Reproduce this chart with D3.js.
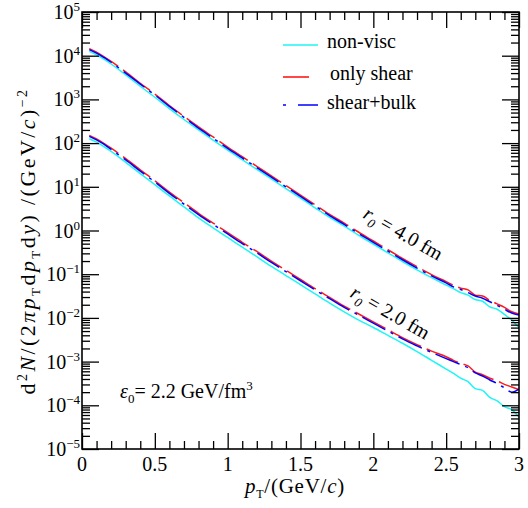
<!DOCTYPE html>
<html><head><meta charset="utf-8">
<script src="https://cdn.jsdelivr.net/npm/d3@7"></script>
<style>
body{margin:0;background:#fff}
svg{display:block}
</style></head><body>
<svg id="c" width="528" height="508"></svg>
<script>
// ---------------- data ----------------
const pT = [0.05,0.1,0.15,0.2,0.3,0.4,0.5,0.6,0.7,0.8,0.9,1.0,1.1,1.2,1.3,1.4,1.5,1.6,1.7,1.8,1.9,2.0,2.1,2.2,2.3,2.4,2.5,2.55,2.6,2.65,2.7,2.75,2.8,2.85,2.9,2.95,3.0];

// r0 = 4.0 fm
const r4NonVisc = [1.26e4,1.05e4,8.32e3,6.46e3,3.63e3,2.00e3,1.12e3,617,347,200,117,69.2,41.7,25.1,15.1,9.12,5.50,3.31,2.00,1.26,0.776,0.490,0.309,0.195,0.126,0.0832,0.0562,0.0468,0.0380,0.0331,0.0263,0.0240,0.0178,0.0158,0.0120,0.00891,0.00603];
const r4Shear    = [1.45e4,1.20e4,9.55e3,7.41e3,4.27e3,2.34e3,1.32e3,724,407,234,138,81.3,49.0,29.5,17.8,10.7,6.46,3.89,2.34,1.48,0.912,0.575,0.363,0.229,0.148,0.0977,0.0676,0.0562,0.0479,0.0437,0.0331,0.0316,0.0251,0.0209,0.0174,0.0138,0.0123];
const r4Bulk     = [1.38e4,1.15e4,9.12e3,7.08e3,3.98e3,2.24e3,1.26e3,692,389,219,129,75.9,45.7,27.5,16.6,10.0,6.03,3.63,2.19,1.38,0.851,0.537,0.339,0.214,0.138,0.0912,0.0631,0.0513,0.0447,0.0380,0.0316,0.0282,0.0234,0.0195,0.0158,0.0129,0.0117];

// r0 = 2.0 fm
const r2NonVisc = [126,105,83.2,64.6,36.3,20.0,11.2,6.17,3.47,1.95,1.15,0.692,0.417,0.251,0.151,0.0933,0.0575,0.0355,0.0219,0.0138,0.00891,0.00603,0.00398,0.00263,0.00170,0.00107,6.76e-4,5.37e-4,4.17e-4,3.47e-4,2.40e-4,2.19e-4,1.51e-4,1.26e-4,9.33e-5,7.94e-5,5.37e-5];
const r2Shear    = [150,124,98.9,76.7,44.2,24.5,13.8,7.59,4.32,2.48,1.48,0.891,0.537,0.331,0.200,0.123,0.0759,0.0468,0.0295,0.0186,0.0123,0.00813,0.00537,0.00355,0.00245,0.00174,0.00129,0.00107,9.12e-4,7.94e-4,5.75e-4,5.01e-4,4.17e-4,3.63e-4,3.02e-4,2.63e-4,2.29e-4];
const r2Bulk     = [143,119,94.4,71.6,41.2,22.9,12.9,7.08,4.03,2.32,1.38,0.832,0.501,0.309,0.186,0.115,0.0708,0.0437,0.0275,0.0174,0.0115,0.00759,0.00501,0.00331,0.00229,0.00162,0.00117,0.00100,8.51e-4,7.24e-4,5.50e-4,4.68e-4,3.80e-4,3.16e-4,2.51e-4,2.00e-4,2.34e-4];

const seriesNames = ["non-visc","only shear","shear+bulk"];
const xTickValues = [0,0.5,1,1.5,2,2.5,3];
const xTickLabels = ["0","0.5","1","1.5","2","2.5","3"];
const yTickExponents = [-5,-4,-3,-2,-1,0,1,2,3,4,5];

// ---------------- layout ----------------
const FONT = "Liberation Serif";
const L=82,R=519,T=12,B=449;
const x=d3.scaleLinear().domain([0,3]).range([L,R]);
const y=d3.scaleLog().domain([1e-5,1e5]).range([B,T]);
const svg=d3.select("#c");
function txt(sel){ return sel.append("text").attr("font-family",FONT).attr("fill","#000"); }

const styles = [
  {color:"#1ff5f5", dash:null},
  {color:"#ff1a1a", dash:"34,6"},
  {color:"#0000ff", dash:"26,6,3,6"}
];

svg.append("clipPath").attr("id","clip").append("rect")
  .attr("x",L).attr("y",T).attr("width",R-L).attr("height",B-T);

const lineGen = d3.line().x((d,i)=>x(pT[i])).y(d=>y(d)).curve(d3.curveMonotoneX);
const plot = svg.append("g").attr("clip-path","url(#clip)");
[[r4NonVisc,r4Shear,r4Bulk],[r2NonVisc,r2Shear,r2Bulk]].forEach(group=>{
  group.forEach((vals,k)=>{
    plot.append("path").attr("d",lineGen(vals))
      .attr("fill","none").attr("stroke",styles[k].color)
      .attr("stroke-width",1.5)
      .attr("stroke-dasharray",styles[k].dash);
  });
});

// ---------------- axes ----------------
function clean(g){ g.select(".domain").remove(); g.selectAll("line").attr("stroke","#000").attr("stroke-width",1.3); g.selectAll("text").remove(); }
const xMinor = d3.range(0,31).map(i=>i/10).filter(v=>Math.abs(v*2-Math.round(v*2))>1e-6);
svg.append("g").attr("transform",`translate(0,${B})`).call(d3.axisBottom(x).tickValues(xTickValues).tickSize(-16)).call(clean);
svg.append("g").attr("transform",`translate(0,${B})`).call(d3.axisBottom(x).tickValues(xMinor).tickSize(-8)).call(clean);
svg.append("g").attr("transform",`translate(0,${T})`).call(d3.axisTop(x).tickValues(xTickValues).tickSize(-16)).call(clean);
svg.append("g").attr("transform",`translate(0,${T})`).call(d3.axisTop(x).tickValues(xMinor).tickSize(-8)).call(clean);

const decades = yTickExponents.map(e=>Math.pow(10,e));
const yMinor = [];
yTickExponents.slice(0,-1).forEach(e=>{ for(let m=2;m<=9;m++) yMinor.push(m*Math.pow(10,e)); });
svg.append("g").attr("transform",`translate(${L},0)`).call(d3.axisLeft(y).tickValues(decades).tickSize(-17)).call(clean);
svg.append("g").attr("transform",`translate(${L},0)`).call(d3.axisLeft(y).tickValues(yMinor).tickSize(-8)).call(clean);
svg.append("g").attr("transform",`translate(${R},0)`).call(d3.axisRight(y).tickValues(decades).tickSize(-17)).call(clean);
svg.append("g").attr("transform",`translate(${R},0)`).call(d3.axisRight(y).tickValues(yMinor).tickSize(-8)).call(clean);

svg.append("rect").attr("x",L).attr("y",T).attr("width",R-L).attr("height",B-T)
  .attr("fill","none").attr("stroke","#000").attr("stroke-width",1.6);

// tick labels
xTickValues.forEach((v,i)=>{
  txt(svg).attr("x",x(v)).attr("y",471).attr("text-anchor","middle")
    .attr("font-size",20).text(xTickLabels[i]);
});
yTickExponents.forEach(e=>{
  const t = txt(svg).attr("x",80).attr("y",y(Math.pow(10,e))+7)
    .attr("text-anchor","end").attr("font-size",20);
  t.append("tspan").text("10");
  t.append("tspan").attr("font-size",13).attr("dy",-8).text(e<0?("\u2212"+(-e)):String(e));
});

// axis titles
const xt = txt(svg).attr("x",295).attr("y",493).attr("text-anchor","middle").attr("font-size",21);
xt.append("tspan").attr("font-style","italic").text("p");
xt.append("tspan").attr("font-size",12).attr("dy",5).text("T");
xt.append("tspan").attr("dy",-5).text("/(GeV/");
xt.append("tspan").attr("font-style","italic").text("c");
xt.append("tspan").text(")");

const yt = txt(svg).attr("transform","translate(35,241) rotate(-90)")
  .attr("text-anchor","middle").attr("font-size",22);
yt.append("tspan").text("d");
yt.append("tspan").attr("font-size",14).attr("dy",-8).text("2");
yt.append("tspan").attr("dy",8).attr("font-style","italic").text("N");
yt.append("tspan").text("/(2");
yt.append("tspan").attr("font-style","italic").text("\u03c0p");
yt.append("tspan").attr("font-size",13).attr("dy",5).text("T");
yt.append("tspan").attr("dy",-5).text("d");
yt.append("tspan").attr("font-style","italic").text("p");
yt.append("tspan").attr("font-size",13).attr("dy",5).text("T");
yt.append("tspan").attr("dy",-5).text("d");
yt.append("tspan").attr("font-style","italic").text("y");
yt.append("tspan").text(") /(GeV/");
yt.append("tspan").attr("font-style","italic").text("c");
yt.append("tspan").text(")");
yt.append("tspan").attr("font-size",14).attr("dy",-8).text("\u22122");
// stretch to the reference length
(function(){
  const n = yt.node();
  const natural = n.getComputedTextLength();
  const chars = n.textContent.length;
  const ls = Math.max(0,Math.min(4,(307-natural)/chars));
  yt.attr("letter-spacing", ls.toFixed(2));
  const n2 = xt.node();
  const nat2 = n2.getComputedTextLength();
  xt.attr("letter-spacing", Math.max(0,Math.min(2,(100-nat2)/n2.textContent.length)).toFixed(2));
})();

// legend
const legY=[45,77,105], legTextY=[48,80,109], legTextX=[327,330,327];
svg.append("line").attr("x1",283).attr("x2",318).attr("y1",legY[0]).attr("y2",legY[0])
  .attr("stroke",styles[0].color).attr("stroke-width",1.6);
svg.append("line").attr("x1",283).attr("x2",309).attr("y1",legY[1]).attr("y2",legY[1])
  .attr("stroke",styles[1].color).attr("stroke-width",1.6);
svg.append("line").attr("x1",283).attr("x2",318).attr("y1",legY[2]).attr("y2",legY[2])
  .attr("stroke",styles[2].color).attr("stroke-width",1.6).attr("stroke-dasharray","3,12,20");
seriesNames.forEach((s,i)=>{
  txt(svg).attr("x",legTextX[i]).attr("y",legTextY[i]).attr("font-size",20).text(s);
});

// annotations
function rLabel(cx,cy,val){
  const t = txt(svg).attr("transform",`translate(${cx},${cy}) rotate(30)`)
    .attr("text-anchor","middle").attr("y",6).attr("font-size",20);
  t.append("tspan").attr("font-style","italic").text("r");
  t.append("tspan").attr("font-style","italic").attr("font-size",13).attr("dy",5).text("0");
  t.append("tspan").attr("dy",-5).text(" = "+val+" fm");
}
rLabel(403,234,"4.0");
rLabel(390,313,"2.0");

const et = txt(svg).attr("x",120).attr("y",398).attr("font-size",20);
et.append("tspan").attr("font-style","italic").text("\u03b5");
et.append("tspan").attr("font-size",13).attr("dy",5).text("0");
et.append("tspan").attr("dy",-5).text("= 2.2 GeV/fm");
et.append("tspan").attr("font-size",13).attr("dy",-8).text("3");
</script>
</body></html>
